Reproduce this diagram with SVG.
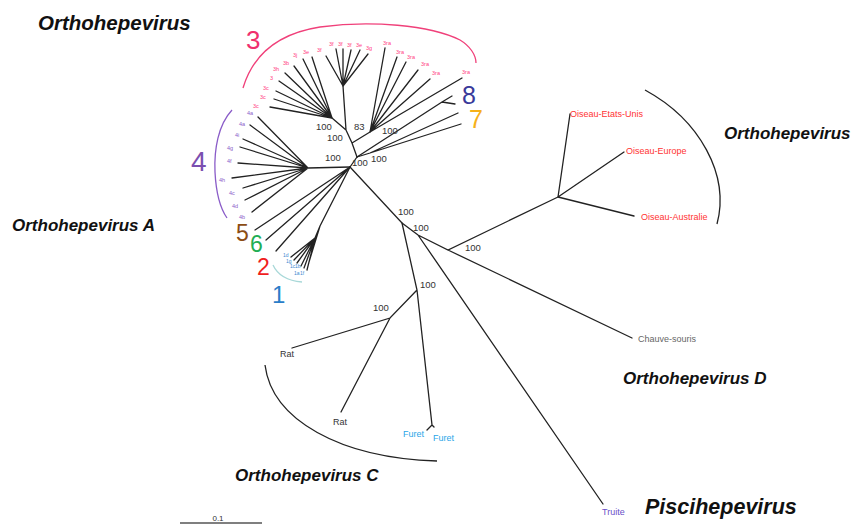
<svg xmlns="http://www.w3.org/2000/svg" width="854" height="526" viewBox="0 0 854 526">
<style>
.e{stroke:#222;stroke-width:1.3;fill:none;stroke-linecap:round}
.arc{fill:none;stroke-width:1.3}
.bs{font-family:"Liberation Sans",Arial,sans-serif;font-size:9.5px;fill:#333}
.cl{font-family:"Liberation Sans",Arial,sans-serif;font-weight:bold;font-style:italic;fill:#111}
.gn{font-family:"Liberation Sans",Arial,sans-serif}
.l3{font-family:"Liberation Sans",Arial,sans-serif;font-size:5.5px;fill:#ff3d7f}
.l4{font-family:"Liberation Sans",Arial,sans-serif;font-size:5.5px;fill:#8a5cc8}
.l1{font-family:"Liberation Sans",Arial,sans-serif;font-size:5px;fill:#3a8ad0}
.lf{font-family:"Liberation Sans",Arial,sans-serif;font-size:9px}
</style>
<rect width="854" height="526" fill="#fff"/>
<g id="connectors">
<path class="e" d="M332,118 L270,107 M332,118 L274,99 M332,118 L276,91 M332,118 L279,81 M332,118 L285,73 M332,118 L294,66 M332,118 L303,59 M332,118 L312,57"/>
<path class="e" d="M343,86 L326,56 M343,86 L336,49 M343,86 L343,49 M343,86 L351,50 M343,86 L360,50 M343,86 L368,54"/>
<path class="e" d="M370,132 L385,48 M370,132 L397,57 M370,132 L406,62 M370,132 L418,70 M370,132 L430,79 M370,132 L462,78"/>
<path class="e" d="M332,118 L346,130 M343,86 L346,130 M346,130 L352,143 M370,132 L352,143 M352,143 L357,157"/>
<path class="e" d="M357,157 L442,102 L452,96 M442,102 L455,104"/>
<path class="e" d="M357,157 L370,153 L458,113 M370,153 L461,124"/>
<path class="e" d="M357,157 L350,167"/>
<path class="e" d="M308,168 L258,117 M308,168 L250,125 M308,168 L243,139 M308,168 L240,147 M308,168 L238,163 M308,168 L232,178 M308,168 L243,188 M308,168 L245,200 M308,168 L252,212 M308,168 L350,167"/>
<path class="e" d="M350,167 L255,230 M350,167 L266,240 M350,167 L276,251"/>
<path class="e" d="M350,167 L320,226 L315,238 M315,238 L291,257 M315,238 L294,260 M315,238 L297,263 M315,238 L301,266 M315,238 L304,268 M315,238 L307,270 M320,226 L309,262"/>
<path class="e" d="M350,167 L402,223 L418,235 L448,250 L558,197 M448,250 L632,338 M418,235 L603,504"/>
<path class="e" d="M558,197 L570,114 M558,197 L624,152 M558,197 L634,216"/>
<path class="e" d="M402,223 L417,290 L390,318 L292,348 M390,318 L341,412 M417,290 L432,425 L427,430 M432,425 L434,427"/>
<path class="arc" stroke="#f0407a" d="M243,88 C252,58 275,34 320,27 C370,20 430,25 460,40 C470,46 476,55 476,63"/>
<path class="arc" stroke="#8a5cc8" d="M232,110 C218,125 214,150 215,172 C216,192 220,208 227,218"/>
<path class="arc" stroke="#a8d8d8" d="M273,265 C278,276 290,281 302,282"/>
<path class="arc" stroke="#222" d="M645,90 C700,120 730,175 717,224"/>
<path class="arc" stroke="#222" d="M265,365 C272,420 340,458 437,461"/>
<path d="M180,523 L262,523" stroke="#555" stroke-width="1.3"/>
</g>
<g id="bootstrap">
<text class="bs" x="316" y="130">100</text>
<text class="bs" x="327" y="141">100</text>
<text class="bs" x="354" y="130">83</text>
<text class="bs" x="382" y="134">100</text>
<text class="bs" x="325" y="161">100</text>
<text class="bs" x="352" y="166">100</text>
<text class="bs" x="371" y="162">100</text>
<text class="bs" x="398" y="215">100</text>
<text class="bs" x="413" y="231">100</text>
<text class="bs" x="465" y="251">100</text>
<text class="bs" x="420" y="288">100</text>
<text class="bs" x="373" y="311">100</text>
</g>
<g id="leaves3">
<text class="l3" x="253" y="108">3c</text>
<text class="l3" x="260" y="99">3c</text>
<text class="l3" x="263" y="90">3c</text>
<text class="l3" x="270" y="80">3</text>
<text class="l3" x="273" y="71">3h</text>
<text class="l3" x="283" y="65">3b</text>
<text class="l3" x="293" y="57">3j</text>
<text class="l3" x="303" y="54">3e</text>
<text class="l3" x="317" y="52">3f</text>
<text class="l3" x="329" y="46">3f</text>
<text class="l3" x="338" y="46">3f</text>
<text class="l3" x="347" y="47">3f</text>
<text class="l3" x="356" y="47">3e</text>
<text class="l3" x="366" y="50">3g</text>
<text class="l3" x="383" y="45">3ra</text>
<text class="l3" x="396" y="54">3ra</text>
<text class="l3" x="407" y="59">3ra</text>
<text class="l3" x="421" y="66">3ra</text>
<text class="l3" x="432" y="75">3ra</text>
<text class="l3" x="462" y="74">3ra</text>
</g>
<g id="leaves4">
<text class="l4" x="247" y="115">4a</text>
<text class="l4" x="239" y="126">4a</text>
<text class="l4" x="235" y="137">4i</text>
<text class="l4" x="227" y="150">4g</text>
<text class="l4" x="227" y="163">4f</text>
<text class="l4" x="219" y="182">4h</text>
<text class="l4" x="229" y="195">4c</text>
<text class="l4" x="232" y="208">4d</text>
<text class="l4" x="239" y="219">4b</text>
</g>
<g id="leaves1">
<text class="l1" x="283" y="257">1d</text>
<text class="l1" x="286" y="263">1g</text>
<text class="l1" x="290" y="268">1c</text>
<text class="l1" x="295" y="268">1b</text>
<text class="l1" x="294" y="275">1a</text>
<text class="l1" x="300" y="275">1f</text>
</g>
<g id="genotypes">
<text class="gn" x="246" y="49" font-size="26" fill="#f0306e">3</text>
<text class="gn" x="191" y="171" font-size="28" fill="#7b4fb0">4</text>
<text class="gn" x="236" y="241" font-size="23" fill="#8b4d14">5</text>
<text class="gn" x="250" y="252" font-size="23" fill="#1fae55">6</text>
<text class="gn" x="257" y="275" font-size="23" fill="#f01e1e">2</text>
<text class="gn" x="272" y="303" font-size="24" fill="#2a7dc8">1</text>
<text class="gn" x="462" y="104" font-size="25" fill="#3a3a9a">8</text>
<text class="gn" x="469" y="128" font-size="25" fill="#f6b11a">7</text>
</g>
<g id="taxa">
<text class="lf" x="570" y="117" fill="#ff3333">Oiseau-Etats-Unis</text>
<text class="lf" x="626" y="154" fill="#ff3333">Oiseau-Europe</text>
<text class="lf" x="641" y="220" fill="#ff3333">Oiseau-Australie</text>
<text class="lf" x="638" y="342" fill="#666">Chauve-souris</text>
<text class="lf" x="602" y="515" fill="#6a4fc8">Truite</text>
<text class="lf" x="280" y="357" fill="#333">Rat</text>
<text class="lf" x="333" y="425" fill="#333">Rat</text>
<text class="lf" x="403" y="437" fill="#2aa6e8">Furet</text>
<text class="lf" x="433" y="441" fill="#2aa6e8">Furet</text>
<text x="218" y="521" font-family="Liberation Sans,Arial,sans-serif" font-size="8" fill="#333" text-anchor="middle">0.1</text>
</g>
<g id="clades">
<text class="cl" x="38" y="30" font-size="20.5">Orthohepevirus</text>
<text class="cl" x="12" y="231" font-size="17">Orthohepevirus A</text>
<text class="cl" x="724" y="139" font-size="17">Orthohepevirus</text>
<text class="cl" x="623" y="384" font-size="17">Orthohepevirus D</text>
<text class="cl" x="235" y="481" font-size="17">Orthohepevirus C</text>
<text class="cl" x="645" y="514" font-size="21.5">Piscihepevirus</text>
</g>
</svg>
